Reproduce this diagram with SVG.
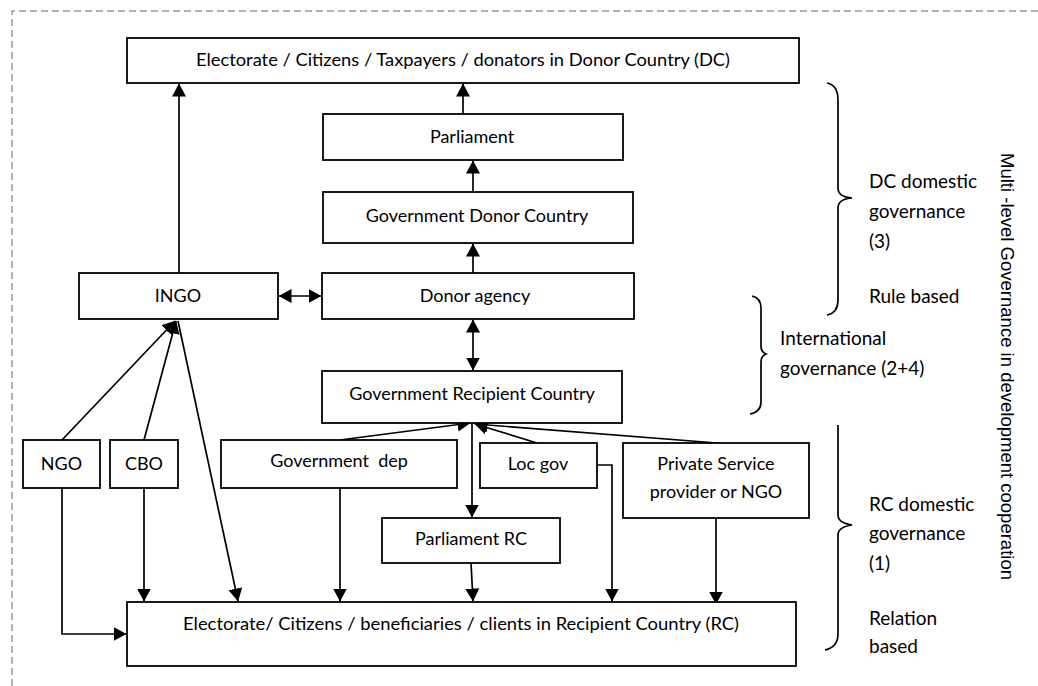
<svg xmlns="http://www.w3.org/2000/svg" width="1038" height="686" viewBox="0 0 1038 686">
<style>
.box{fill:#fff;stroke:#000;stroke-width:1.8}
.t{font-family:Lato,"Liberation Sans",sans-serif;font-size:18px;fill:#000;text-anchor:middle}
.lab{font-family:Lato,"Liberation Sans",sans-serif;font-size:19px;fill:#000}
.c{fill:none;stroke:#000;stroke-width:1.7}
.brace{fill:none;stroke:#000;stroke-width:1.7}
</style>
<defs>
<marker id="ah" markerUnits="userSpaceOnUse" markerWidth="13" markerHeight="14" refX="12.5" refY="7" orient="auto-start-reverse" viewBox="0 0 13 14">
<path d="M0,0 L13,7 L0,14 z" fill="#000"/>
</marker>
</defs>
<rect width="1038" height="686" fill="#fff"/>
<path d="M12,686 V11 H1038" fill="none" stroke="#999" stroke-width="1.5" stroke-dasharray="7 4"/>

<g id="connectors">
<line class="c" x1="463" y1="114" x2="463" y2="84" marker-end="url(#ah)"/>
<line class="c" x1="473" y1="192" x2="473" y2="161" marker-end="url(#ah)"/>
<line class="c" x1="473" y1="273" x2="473" y2="244" marker-end="url(#ah)"/>
<line class="c" x1="179" y1="273" x2="179" y2="84" marker-end="url(#ah)"/>
<line class="c" x1="279" y1="296" x2="321" y2="296" marker-start="url(#ah)" marker-end="url(#ah)"/>
<line class="c" x1="473" y1="320" x2="473" y2="370" marker-start="url(#ah)" marker-end="url(#ah)"/>
<line class="c" x1="340" y1="440" x2="470" y2="423" marker-end="url(#ah)"/>
<line class="c" x1="537" y1="443" x2="475" y2="424" marker-end="url(#ah)"/>
<line class="c" x1="717" y1="443" x2="475" y2="424" marker-end="url(#ah)"/>
<line class="c" x1="472" y1="424" x2="472" y2="517" marker-end="url(#ah)"/>
<line class="c" x1="62" y1="440" x2="175" y2="321" marker-end="url(#ah)"/>
<line class="c" x1="144" y1="440" x2="176" y2="321" marker-end="url(#ah)"/>
<line class="c" x1="178" y1="321" x2="238" y2="601" marker-end="url(#ah)"/>
<polyline class="c" points="62,488 62,634 126,634" marker-end="url(#ah)"/>
<line class="c" x1="144" y1="488" x2="144" y2="601" marker-end="url(#ah)"/>
<line class="c" x1="340" y1="488" x2="340" y2="601" marker-end="url(#ah)"/>
<line class="c" x1="471" y1="563" x2="473" y2="601" marker-end="url(#ah)"/>
<polyline class="c" points="597,465 612,465 612,601" marker-end="url(#ah)"/>
<line class="c" x1="716" y1="518" x2="716" y2="604" marker-end="url(#ah)"/>
</g>

<g id="n-electorate-dc"><rect class="box" x="127" y="38" width="672" height="45"/><text class="t" x="463" y="66" textLength="534" lengthAdjust="spacingAndGlyphs">Electorate / Citizens / Taxpayers / donators in Donor Country (DC)</text></g>
<g id="n-parliament"><rect class="box" x="323" y="114" width="300" height="46"/><text class="t" x="472" y="143">Parliament</text></g>
<g id="n-gov-dc"><rect class="box" x="323" y="192" width="310" height="51"/><text class="t" x="477" y="222">Government Donor Country</text></g>
<g id="n-ingo"><rect class="box" x="79" y="273" width="199" height="46"/><text class="t" x="178" y="302">INGO</text></g>
<g id="n-donor-agency"><rect class="box" x="322" y="273" width="312" height="46"/><text class="t" x="475" y="302">Donor agency</text></g>
<g id="n-gov-rc"><rect class="box" x="322" y="371" width="300" height="52"/><text class="t" x="472" y="400">Government Recipient Country</text></g>
<g id="n-ngo"><rect class="box" x="23" y="440" width="77" height="48"/><text class="t" x="61.5" y="470">NGO</text></g>
<g id="n-cbo"><rect class="box" x="110" y="440" width="68" height="48"/><text class="t" x="144" y="470">CBO</text></g>
<g id="n-gov-dep"><rect class="box" x="221" y="440" width="236" height="48"/><text class="t" x="339" y="467" xml:space="preserve">Government  dep</text></g>
<g id="n-loc-gov"><rect class="box" x="480" y="443" width="117" height="45"/><text class="t" x="538" y="470">Loc gov</text></g>
<g id="n-private"><rect class="box" x="623" y="443" width="186" height="75"/><text class="t" x="716" y="470">Private Service</text><text class="t" x="716" y="498">provider or NGO</text></g>
<g id="n-parliament-rc"><rect class="box" x="382" y="518" width="178" height="45"/><text class="t" x="471" y="545">Parliament RC</text></g>
<g id="n-electorate-rc"><rect class="box" x="127" y="602" width="669" height="64"/><text class="t" x="461" y="630" textLength="556" lengthAdjust="spacingAndGlyphs">Electorate/ Citizens / beneficiaries / clients in Recipient Country (RC)</text></g>

<g id="braces">
<path class="brace" d="M827,83 Q838,85 838,100 V188 Q838,197 852,198 Q838,199 838,208 V300 Q838,313 827,315"/>
<path class="brace" d="M752,296 Q761,298 761,308 V346 Q761,352 766,354 Q761,356 761,362 V402 Q761,412 750,414"/>
<path class="brace" d="M838,425 V515 Q838,523 852,525 Q838,527 838,535 V634 Q838,647 825,650"/>
</g>

<g id="labels">
<text class="lab" x="869" y="188">DC domestic</text>
<text class="lab" x="869" y="218">governance</text>
<text class="lab" x="869" y="248">(3)</text>
<text class="lab" x="869" y="303">Rule based</text>
<text class="lab" x="780" y="345">International</text>
<text class="lab" x="780" y="375">governance (2+4)</text>
<text class="lab" x="869" y="511">RC domestic</text>
<text class="lab" x="869" y="540">governance</text>
<text class="lab" x="869" y="570">(1)</text>
<text class="lab" x="869" y="625">Relation</text>
<text class="lab" x="869" y="653">based</text>
<text transform="translate(1001,153) rotate(90)" font-family="'Liberation Sans',Arial,sans-serif" font-size="18" textLength="427" lengthAdjust="spacingAndGlyphs">Multi -level Governance in development cooperation</text>
</g>
</svg>
